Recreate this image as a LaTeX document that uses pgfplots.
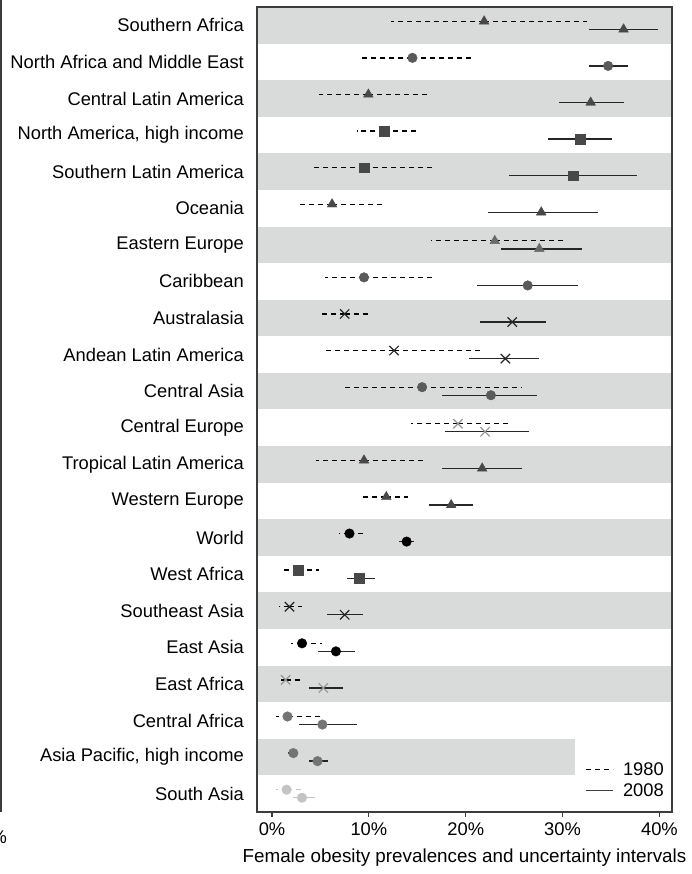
\documentclass[border=0pt]{standalone}
\usepackage{pgfplots}
\pgfplotsset{compat=1.18}
\usepackage{pgfplotstable}
\usepackage{fontspec}
\setmainfont{Liberation Sans}

\definecolor{band}{RGB}{217,218,218}
\definecolor{cD}{RGB}{72,72,72}
\definecolor{cM}{RGB}{105,105,105}
\definecolor{cC}{RGB}{90,90,90}
\definecolor{cG}{RGB}{115,115,115}
\definecolor{cL}{RGB}{195,195,195}
\definecolor{cX}{RGB}{150,150,150}
\definecolor{frame}{RGB}{60,60,60}

% row: 22 = top (Southern Africa) ... 1 = bottom (South Asia)
\pgfplotstableread{
row lo est hi cls
22 12.3 21.9 32.5 triD
21 9.0 14.5 20.5 cirD
20 4.9 9.95 16.3 triD
19 8.8 11.6 15.3 sqD
18 4.0 9.5 16.5 sqD
17 2.8 6.2 11.7 triD
16 16.4 23.0 30.0 triM
15 5.5 9.5 16.7 cirD
14 5.2 7.5 10.1 xK
13 5.2 12.6 21.7 xK
12 7.3 15.5 25.8 cirD
11 14.4 19.2 24.7 xL
10 4.5 9.5 15.9 dtri
9 9.2 11.8 14.0 triD
8 6.9 8.0 9.5 cirK
7 1.1 2.7 4.9 sqD
6 0.7 1.8 3.1 xK
5 2.0 3.1 5.2 cirK
4 0.7 1.4 3.0 xL
3 0.4 1.6 5.2 cirG
2 1.4 2.2 3.1 cirG
}\tabA
\pgfplotstableread{
row lo est hi cls
22 32.7 36.3 39.9 triD
21 32.7 34.7 36.8 cirD
20 29.6 32.9 36.3 triD
19 28.5 31.8 35.1 sqD
18 24.5 31.1 37.7 sqD
17 22.3 27.8 33.7 triD
16 23.6 27.6 32.0 triM
15 21.2 26.4 31.6 cirD
14 21.5 24.8 28.3 xK
13 20.3 24.1 27.6 xK
12 17.6 22.6 27.4 cirD
11 17.9 22.0 26.5 xL
10 17.6 21.7 25.8 dtri
9 16.2 18.5 20.8 triD
8 13.1 13.9 14.7 cirK
7 7.7 9.0 10.6 sqD
6 5.7 7.5 9.4 xK
5 4.7 6.6 8.6 cirK
4 3.8 5.3 7.3 xL
3 2.8 5.2 8.8 cirG
2 3.8 4.7 5.8 cirG
}\tabB
\pgfplotstableread{
row lo est hi cls
1 0.4 1.5 3.1 cirL
}\tabAsa
\pgfplotstableread{
row lo est hi cls
1 2.2 3.1 4.4 cirL
}\tabBsa

\pgfplotsset{
  myclasses/.style={
    scatter, only marks, point meta=explicit symbolic,
    scatter/classes={
      triD={mark=triangle*, mark size=5.6bp, draw=cD, fill=cD},
      triM={mark=triangle*, mark size=5.6bp, draw=cM, fill=cM},
      dtri={mark=triangle*, mark size=5.6bp, draw=cD, fill=cD, mark options={rotate=180}},
      cirD={mark=*, mark size=4.8bp, draw=cC, fill=cC},
      cirK={mark=*, mark size=4.8bp, draw=black, fill=black},
      cirG={mark=*, mark size=4.8bp, draw=cG, fill=cG},
      cirL={mark=*, mark size=4.8bp, draw=cL, fill=cL},
      sqD={mark=square*, mark size=4.8bp, draw=cD, fill=cD},
      xK={mark=x, mark size=6.6bp, draw=black!85, line width=1.2bp},
      xL={mark=x, mark size=6.6bp, draw=cX, line width=1.2bp}
    },
  },
  erra/.style={
    error bars/.cd, x dir=both, x explicit, error mark=none,
    error bar style={#1, line width=1.3bp, dash pattern=on 5bp off 4bp},
  },
  errb/.style={
    error bars/.cd, x dir=both, x explicit, error mark=none,
    error bar style={#1, line width=1.3bp, solid},
  },
  mylegline/.style={legend image code/.code={\draw[##1] (0bp,0bp) -- (27bp,0bp);}},
}

\begin{document}
\begin{tikzpicture}[font=\fontsize{18.4}{22}\selectfont]
\useasboundingbox (0,0) rectangle (692bp,874bp);
\draw[line width=1.3bp, frame] (1bp,62bp) -- (1bp,874bp);
\node[anchor=east, inner sep=0pt] at (7bp,37bp) {\%};
\begin{axis}[
  at={(257bp,62bp)}, anchor=south west,
  width=415bp, height=805bp, scale only axis,
  xmin=-1.55, xmax=41.3, ymin=0.5, ymax=22.5,
  axis on top,
  axis line style={line width=1.3bp, frame},
  xtick={0,10,20,30,40},
  xticklabels={0\%,10\%,20\%,30\%,40\%},
  xtick pos=bottom,
  tick align=outside,
  major tick length=5bp,
  xtick style={line width=1.1bp, frame},
  ytick={1,...,22},
  yticklabels={South Asia,{Asia Pacific, high income},Central Africa,East Africa,East Asia,Southeast Asia,West Africa,World,Western Europe,Tropical Latin America,Central Europe,Central Asia,Andean Latin America,Australasia,Caribbean,Eastern Europe,Oceania,Southern Latin America,{North America, high income},Central Latin America,North Africa and Middle East,Southern Africa},
  ytick style={draw=none},
  yticklabel style={anchor=east, inner sep=0pt, xshift=-8bp},
  xticklabel style={anchor=north, inner sep=0pt, yshift=-6bp},
  xlabel={Female obesity prevalences and uncertainty intervals},
  xlabel style={at={(axis description cs:0.5,0)}, anchor=north, inner sep=0pt, yshift=-37bp,
    font=\fontsize{18.9}{22}\selectfont},
  legend style={draw=none, fill=none, at={(1,0)}, anchor=south east, xshift=-7bp, yshift=13bp,
    font=\fontsize{18.4}{22}\selectfont,
    inner sep=0pt, row sep=5bp, column sep=0pt, nodes={inner sep=1bp}, cells={anchor=west}},
]
% background bands
\addplot[forget plot, fill=band, draw=none] coordinates {(-5,21.5) (45,21.5) (45,22.5) (-5,22.5)} -- cycle;
\addplot[forget plot, fill=band, draw=none] coordinates {(-5,19.5) (45,19.5) (45,20.5) (-5,20.5)} -- cycle;
\addplot[forget plot, fill=band, draw=none] coordinates {(-5,17.5) (45,17.5) (45,18.5) (-5,18.5)} -- cycle;
\addplot[forget plot, fill=band, draw=none] coordinates {(-5,15.5) (45,15.5) (45,16.5) (-5,16.5)} -- cycle;
\addplot[forget plot, fill=band, draw=none] coordinates {(-5,13.5) (45,13.5) (45,14.5) (-5,14.5)} -- cycle;
\addplot[forget plot, fill=band, draw=none] coordinates {(-5,11.5) (45,11.5) (45,12.5) (-5,12.5)} -- cycle;
\addplot[forget plot, fill=band, draw=none] coordinates {(-5,9.5) (45,9.5) (45,10.5) (-5,10.5)} -- cycle;
\addplot[forget plot, fill=band, draw=none] coordinates {(-5,7.5) (45,7.5) (45,8.5) (-5,8.5)} -- cycle;
\addplot[forget plot, fill=band, draw=none] coordinates {(-5,5.5) (45,5.5) (45,6.5) (-5,6.5)} -- cycle;
\addplot[forget plot, fill=band, draw=none] coordinates {(-5,3.5) (45,3.5) (45,4.5) (-5,4.5)} -- cycle;
\addplot[forget plot, fill=band, draw=none] coordinates {(-5,1.5) (31.3,1.5) (31.3,2.5) (-5,2.5)} -- cycle;

% 1980 (dashed, above)
\addplot[forget plot, myclasses, erra=black]
  table[x=est, y expr=\thisrow{row}+0.11, x error minus expr=\thisrow{est}-\thisrow{lo}, x error plus expr=\thisrow{hi}-\thisrow{est}, meta=cls] {\tabA};
\addplot[forget plot, myclasses, erra=cL]
  table[x=est, y expr=\thisrow{row}+0.11, x error minus expr=\thisrow{est}-\thisrow{lo}, x error plus expr=\thisrow{hi}-\thisrow{est}, meta=cls] {\tabAsa};
% 2008 (solid, below)
\addplot[forget plot, myclasses, errb=black!85]
  table[x=est, y expr=\thisrow{row}-0.11, x error minus expr=\thisrow{est}-\thisrow{lo}, x error plus expr=\thisrow{hi}-\thisrow{est}, meta=cls] {\tabB};
\addplot[forget plot, myclasses, errb=cL]
  table[x=est, y expr=\thisrow{row}-0.11, x error minus expr=\thisrow{est}-\thisrow{lo}, x error plus expr=\thisrow{hi}-\thisrow{est}, meta=cls] {\tabBsa};

\addlegendimage{mylegline, black, line width=1.3bp, dash pattern=on 5bp off 4bp}
\addlegendentry{\hspace{8bp}1980}
\addlegendimage{mylegline, black!75, line width=1.3bp}
\addlegendentry{\hspace{8bp}2008}
\end{axis}
\end{tikzpicture}
\end{document}
